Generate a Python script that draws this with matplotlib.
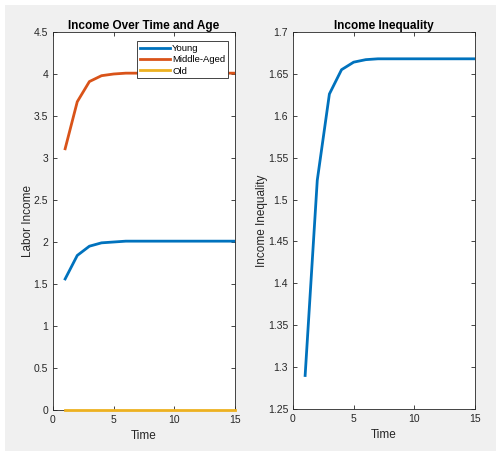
import numpy as np
import matplotlib.pyplot as plt
from matplotlib.patches import Rectangle

plt.rcParams['font.family'] = ['Liberation Sans', 'DejaVu Sans']

# data
time = [1, 2, 3, 4, 5, 6, 7, 8, 9, 10, 11, 12, 13, 14, 15]
young = [1.56, 1.84, 1.95, 1.99, 2.00, 2.01, 2.01, 2.01, 2.01, 2.01, 2.01, 2.01, 2.01, 2.01, 2.01]
middle = [3.11, 3.67, 3.91, 3.98, 4.00, 4.01, 4.01, 4.01, 4.01, 4.01, 4.01, 4.01, 4.01, 4.01, 4.01]
old = [0, 0, 0, 0, 0, 0, 0, 0, 0, 0, 0, 0, 0, 0, 0]
inequality = [1.29, 1.523, 1.626, 1.655, 1.664, 1.667, 1.668, 1.668, 1.668, 1.668,
              1.668, 1.668, 1.668, 1.668, 1.668]

# MATLAB default colours
c_blue = '#0072BD'
c_red = '#D95319'
c_yellow = '#EDB120'
grey_txt = '#262626'

W, H = 496, 451
fig = plt.figure(figsize=(W / 100, H / 100), dpi=100, facecolor='white')
# grey window area (thin white strip on top and left like the screenshot)
fig.patches.append(Rectangle((5 / W, 0), 1 - 5 / W, 1 - 5 / H, transform=fig.transFigure,
                             facecolor='#F0F0F0', edgecolor='none', zorder=-10))

ax1 = fig.add_axes([53 / W, 1 - 410 / H, 182 / W, 378 / H])
ax2 = fig.add_axes([293 / W, 1 - 409 / H, 182 / W, 377 / H])


def style(ax):
    ax.set_facecolor('white')
    for s in ax.spines.values():
        s.set_color('#262626')
        s.set_linewidth(0.6)
    ax.tick_params(direction='in', top=True, right=True, length=3, width=0.6,
                   colors='#262626', labelsize=7.5, labelcolor=grey_txt)
    ax.set_xlim(0, 15)
    ax.set_xticks([0, 5, 10, 15])


# left panel
style(ax1)
ax1.plot(time, young, color=c_blue, lw=2, label='Young')
ax1.plot(time, middle, color=c_red, lw=2, label='Middle-Aged')
ax1.plot(time, old, color=c_yellow, lw=2, label='Old', clip_on=False, zorder=3)
ax1.set_ylim(0, 4.5)
ax1.set_yticks([0, 0.5, 1, 1.5, 2, 2.5, 3, 3.5, 4, 4.5])
ax1.set_yticklabels(['0', '0.5', '1', '1.5', '2', '2.5', '3', '3.5', '4', '4.5'])
ax1.set_xlabel('Time', fontsize=8.5, color=grey_txt, labelpad=3.5)
ax1.set_ylabel('Labor Income', fontsize=8.5, color=grey_txt, labelpad=-0.5)
ax1.set_title('Income Over Time and Age', fontsize=8.5, fontweight='bold', pad=2.5)
leg = ax1.legend(loc='upper right', fontsize=6.8, frameon=True, fancybox=False,
                 edgecolor='#262626', framealpha=1, handlelength=3.2,
                 handletextpad=0.25, borderpad=0.3, labelspacing=0.25,
                 borderaxespad=0, bbox_to_anchor=(0.962, 0.976))
leg.get_frame().set_linewidth(0.6)

# right panel
style(ax2)
ax2.plot(time, inequality, color=c_blue, lw=2)
ax2.set_ylim(1.25, 1.7)
ax2.set_yticks([1.25, 1.3, 1.35, 1.4, 1.45, 1.5, 1.55, 1.6, 1.65, 1.7])
ax2.set_yticklabels(['1.25', '1.3', '1.35', '1.4', '1.45', '1.5', '1.55', '1.6', '1.65', '1.7'])
ax2.set_xlabel('Time', fontsize=8.5, color=grey_txt, labelpad=3.5)
ax2.set_ylabel('Income Inequality', fontsize=8.5, color=grey_txt, labelpad=-0.5)
ax2.set_title('Income Inequality', fontsize=8.5, fontweight='bold', pad=2.5)

fig.savefig('out.png', dpi=100, facecolor=fig.get_facecolor())
